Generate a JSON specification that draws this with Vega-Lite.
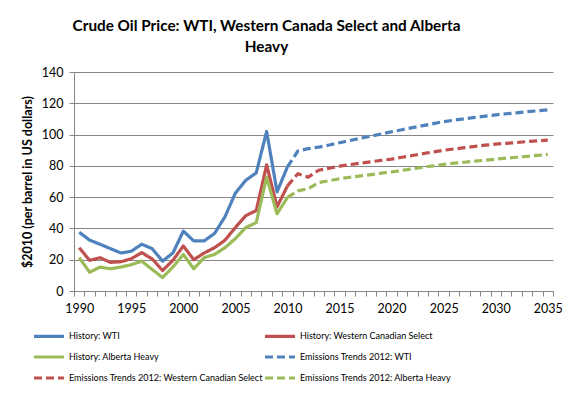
{
  "$schema": "https://vega.github.io/schema/vega-lite/v6.json",
  "width": 479,
  "height": 219,
  "autosize": {"type": "none"},
  "padding": {"left": 74, "top": 72, "right": 27, "bottom": 106},
  "background": "white",
  "title": {
    "text": ["Crude Oil Price: WTI, Western Canada Select and Alberta", "Heavy"],
    "font": "Lato",
    "fontSize": 15.3,
    "fontWeight": "bold",
    "color": "black",
    "anchor": "middle",
    "dx": -47,
    "offset": 11,
    "lineHeight": 21
  },
  "datasets": {
    "prices": [
      {"year": 1990, "History: WTI": 37.6, "History: Western Canadian Select": 27.7, "History: Alberta Heavy": 21.3},
      {"year": 1991, "History: WTI": 32.5, "History: Western Canadian Select": 19.6, "History: Alberta Heavy": 12.0},
      {"year": 1992, "History: WTI": 29.9, "History: Western Canadian Select": 21.3, "History: Alberta Heavy": 15.3},
      {"year": 1993, "History: WTI": 27.1, "History: Western Canadian Select": 18.3, "History: Alberta Heavy": 14.2},
      {"year": 1994, "History: WTI": 24.3, "History: Western Canadian Select": 18.7, "History: Alberta Heavy": 15.3},
      {"year": 1995, "History: WTI": 25.4, "History: Western Canadian Select": 20.6, "History: Alberta Heavy": 16.8},
      {"year": 1996, "History: WTI": 29.9, "History: Western Canadian Select": 24.5, "History: Alberta Heavy": 19.1},
      {"year": 1997, "History: WTI": 27.1, "History: Western Canadian Select": 20.6, "History: Alberta Heavy": 13.8},
      {"year": 1998, "History: WTI": 19.1, "History: Western Canadian Select": 13.1, "History: Alberta Heavy": 8.6},
      {"year": 1999, "History: WTI": 24.3, "History: Western Canadian Select": 19.6, "History: Alberta Heavy": 15.3},
      {"year": 2000, "History: WTI": 38.3, "History: Western Canadian Select": 28.8, "History: Alberta Heavy": 23.4},
      {"year": 2001, "History: WTI": 32.0, "History: Western Canadian Select": 20.0, "History: Alberta Heavy": 14.2},
      {"year": 2002, "History: WTI": 32.0, "History: Western Canadian Select": 24.3, "History: Alberta Heavy": 21.3},
      {"year": 2003, "History: WTI": 36.8, "History: Western Canadian Select": 27.7, "History: Alberta Heavy": 23.4},
      {"year": 2004, "History: WTI": 47.5, "History: Western Canadian Select": 32.5, "History: Alberta Heavy": 27.7},
      {"year": 2005, "History: WTI": 62.6, "History: Western Canadian Select": 40.6, "History: Alberta Heavy": 33.5},
      {"year": 2006, "History: WTI": 70.8, "History: Western Canadian Select": 48.2, "History: Alberta Heavy": 40.6},
      {"year": 2007, "History: WTI": 75.5, "History: Western Canadian Select": 51.4, "History: Alberta Heavy": 43.7},
      {"year": 2008, "History: WTI": 102.0, "History: Western Canadian Select": 80.6, "History: Alberta Heavy": 72.8},
      {"year": 2009, "History: WTI": 63.4, "History: Western Canadian Select": 53.8, "History: Alberta Heavy": 49.4},
      {"year": 2010, "History: WTI": 79.4, "History: Western Canadian Select": 67.2, "History: Alberta Heavy": 59.8,
       "Emissions Trends 2012: WTI": 79.4, "Emissions Trends 2012: Western Canadian Select": 67.2, "Emissions Trends 2012: Alberta Heavy": 59.8},
      {"year": 2011, "Emissions Trends 2012: WTI": 89.5, "Emissions Trends 2012: Western Canadian Select": 75.0, "Emissions Trends 2012: Alberta Heavy": 64.0},
      {"year": 2012, "Emissions Trends 2012: WTI": 91.0, "Emissions Trends 2012: Western Canadian Select": 72.8, "Emissions Trends 2012: Alberta Heavy": 65.4},
      {"year": 2013, "Emissions Trends 2012: WTI": 92.0, "Emissions Trends 2012: Western Canadian Select": 77.2, "Emissions Trends 2012: Alberta Heavy": 69.3},
      {"year": 2014, "Emissions Trends 2012: WTI": 93.3, "Emissions Trends 2012: Western Canadian Select": 78.5, "Emissions Trends 2012: Alberta Heavy": 70.5},
      {"year": 2015, "Emissions Trends 2012: WTI": 94.8, "Emissions Trends 2012: Western Canadian Select": 79.8, "Emissions Trends 2012: Alberta Heavy": 71.8},
      {"year": 2016, "Emissions Trends 2012: WTI": 96.2, "Emissions Trends 2012: Western Canadian Select": 80.8, "Emissions Trends 2012: Alberta Heavy": 72.7},
      {"year": 2017, "Emissions Trends 2012: WTI": 97.6, "Emissions Trends 2012: Western Canadian Select": 81.7, "Emissions Trends 2012: Alberta Heavy": 73.6},
      {"year": 2018, "Emissions Trends 2012: WTI": 99.0, "Emissions Trends 2012: Western Canadian Select": 82.6, "Emissions Trends 2012: Alberta Heavy": 74.4},
      {"year": 2019, "Emissions Trends 2012: WTI": 100.4, "Emissions Trends 2012: Western Canadian Select": 83.5, "Emissions Trends 2012: Alberta Heavy": 75.3},
      {"year": 2020, "Emissions Trends 2012: WTI": 101.8, "Emissions Trends 2012: Western Canadian Select": 84.3, "Emissions Trends 2012: Alberta Heavy": 76.1},
      {"year": 2021, "Emissions Trends 2012: WTI": 103.1, "Emissions Trends 2012: Western Canadian Select": 85.5, "Emissions Trends 2012: Alberta Heavy": 77.1},
      {"year": 2022, "Emissions Trends 2012: WTI": 104.4, "Emissions Trends 2012: Western Canadian Select": 86.6, "Emissions Trends 2012: Alberta Heavy": 78.1},
      {"year": 2023, "Emissions Trends 2012: WTI": 105.7, "Emissions Trends 2012: Western Canadian Select": 87.8, "Emissions Trends 2012: Alberta Heavy": 79.1},
      {"year": 2024, "Emissions Trends 2012: WTI": 107.0, "Emissions Trends 2012: Western Canadian Select": 88.9, "Emissions Trends 2012: Alberta Heavy": 80.0},
      {"year": 2025, "Emissions Trends 2012: WTI": 108.3, "Emissions Trends 2012: Western Canadian Select": 90.0, "Emissions Trends 2012: Alberta Heavy": 81.0},
      {"year": 2026, "Emissions Trends 2012: WTI": 109.2, "Emissions Trends 2012: Western Canadian Select": 90.8, "Emissions Trends 2012: Alberta Heavy": 81.7},
      {"year": 2027, "Emissions Trends 2012: WTI": 110.1, "Emissions Trends 2012: Western Canadian Select": 91.6, "Emissions Trends 2012: Alberta Heavy": 82.3},
      {"year": 2028, "Emissions Trends 2012: WTI": 111.0, "Emissions Trends 2012: Western Canadian Select": 92.4, "Emissions Trends 2012: Alberta Heavy": 83.0},
      {"year": 2029, "Emissions Trends 2012: WTI": 111.8, "Emissions Trends 2012: Western Canadian Select": 93.2, "Emissions Trends 2012: Alberta Heavy": 83.6},
      {"year": 2030, "Emissions Trends 2012: WTI": 112.6, "Emissions Trends 2012: Western Canadian Select": 93.9, "Emissions Trends 2012: Alberta Heavy": 84.3},
      {"year": 2031, "Emissions Trends 2012: WTI": 113.3, "Emissions Trends 2012: Western Canadian Select": 94.4, "Emissions Trends 2012: Alberta Heavy": 84.9},
      {"year": 2032, "Emissions Trends 2012: WTI": 113.9, "Emissions Trends 2012: Western Canadian Select": 94.9, "Emissions Trends 2012: Alberta Heavy": 85.5},
      {"year": 2033, "Emissions Trends 2012: WTI": 114.6, "Emissions Trends 2012: Western Canadian Select": 95.5, "Emissions Trends 2012: Alberta Heavy": 86.1},
      {"year": 2034, "Emissions Trends 2012: WTI": 115.2, "Emissions Trends 2012: Western Canadian Select": 96.0, "Emissions Trends 2012: Alberta Heavy": 86.7},
      {"year": 2035, "Emissions Trends 2012: WTI": 115.8, "Emissions Trends 2012: Western Canadian Select": 96.5, "Emissions Trends 2012: Alberta Heavy": 87.3}
    ]
  },
  "data": {"name": "prices"},
  "transform": [
    {"fold": ["History: WTI", "History: Western Canadian Select", "History: Alberta Heavy", "Emissions Trends 2012: WTI", "Emissions Trends 2012: Western Canadian Select", "Emissions Trends 2012: Alberta Heavy"], "as": ["series", "value"]},
    {"filter": "isValid(datum.value)"}
  ],
  "mark": {"type": "line", "strokeWidth": 3.2, "strokeCap": "butt", "strokeJoin": "round"},
  "encoding": {
    "x": {
      "field": "year",
      "type": "quantitative",
      "scale": {"domain": [1989.5, 2035.5], "nice": false, "zero": false},
      "axis": {
        "title": null,
        "grid": false,
        "values": [1989.5, 1990.5, 1991.5, 1992.5, 1993.5, 1994.5, 1995.5, 1996.5, 1997.5, 1998.5, 1999.5, 2000.5, 2001.5, 2002.5, 2003.5, 2004.5, 2005.5, 2006.5, 2007.5, 2008.5, 2009.5, 2010.5, 2011.5, 2012.5, 2013.5, 2014.5, 2015.5, 2016.5, 2017.5, 2018.5, 2019.5, 2020.5, 2021.5, 2022.5, 2023.5, 2024.5, 2025.5, 2026.5, 2027.5, 2028.5, 2029.5, 2030.5, 2031.5, 2032.5, 2033.5, 2034.5, 2035.5],
        "labelExpr": "(datum.value + 0.5) % 5 == 0 ? toString(datum.value + 0.5) : ''",
        "labelOffset": 5.2,
        "labelOverlap": false,
        "labelFlush": false,
        "labelFont": "Lato",
        "labelFontSize": 12.5,
        "labelColor": "black",
        "labelPadding": 6,
        "domainColor": "#868686",
        "tickColor": "#868686",
        "tickSize": 5
      }
    },
    "y": {
      "field": "value",
      "type": "quantitative",
      "scale": {"domain": [0, 140], "nice": false},
      "axis": {
        "title": "$2010 (per barrel in US dollars)",
        "titleFont": "Lato",
        "titleFontSize": 12.5,
        "titleFontWeight": "bold",
        "titleColor": "black",
        "titleX": -47,
        "titleY": 109.5,
        "titleAngle": -90,
        "titleAlign": "center",
        "titleBaseline": "middle",
        "values": [0, 20, 40, 60, 80, 100, 120, 140],
        "grid": true,
        "gridColor": "#868686",
        "gridOpacity": 1,
        "labelFont": "Lato",
        "labelFontSize": 12.5,
        "labelColor": "black",
        "labelPadding": 6,
        "domainColor": "#868686",
        "tickColor": "#868686",
        "tickSize": 5
      }
    },
    "color": {
      "field": "series",
      "type": "nominal",
      "scale": {
        "domain": ["History: WTI", "History: Western Canadian Select", "History: Alberta Heavy", "Emissions Trends 2012: WTI", "Emissions Trends 2012: Western Canadian Select", "Emissions Trends 2012: Alberta Heavy"],
        "range": ["#4F81BD", "#C0504D", "#9BBB59", "#4F81BD", "#C0504D", "#9BBB59"]
      },
      "legend": {
        "title": null,
        "orient": "none",
        "direction": "horizontal",
        "legendX": -37,
        "legendY": 252,
        "columns": 2,
        "columnPadding": -5,
        "rowPadding": 2,
        "symbolType": "M-1.5,0H1.5",
        "symbolSize": 400,
        "symbolStrokeWidth": 3.2,
        "labelFont": "Lato",
        "labelFontSize": 9,
        "labelColor": "black",
        "labelOffset": 8,
        "labelLimit": 400
      }
    },
    "strokeDash": {
      "field": "series",
      "type": "nominal",
      "scale": {
        "domain": ["History: WTI", "History: Western Canadian Select", "History: Alberta Heavy", "Emissions Trends 2012: WTI", "Emissions Trends 2012: Western Canadian Select", "Emissions Trends 2012: Alberta Heavy"],
        "range": [[1, 0], [1, 0], [1, 0], [8, 4], [8, 4], [8, 4]]
      }
    }
  },
  "config": {"view": {"stroke": null}}
}
